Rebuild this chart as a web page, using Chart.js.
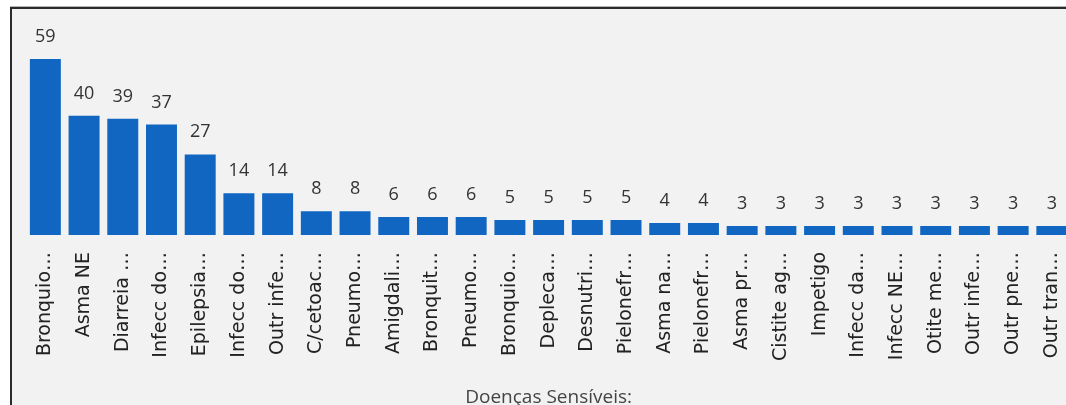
<!DOCTYPE html>
<html>
<head>
<meta charset="utf-8">
<script src="https://cdn.jsdelivr.net/npm/chart.js@4/dist/chart.umd.min.js"></script>
<style>
  html, body { margin: 0; padding: 0; background: #fff; overflow: hidden; width: 1066px; height: 405px; }
  .panel {
    position: absolute; left: 10px; top: 7px; width: 1100px; height: 420px;
    background: #f2f2f2; border-left: 2px solid #2b2b2b; border-top: 2px solid #2b2b2b;
    box-shadow: 0 -1px 0 #b5b5b5;
  }
  .chart-box { position: absolute; left: 0; top: 1px; width: 1080px; height: 400px; }
</style>
</head>
<body>
<div class="panel">
  <div class="chart-box"><canvas id="doencas-chart"></canvas></div>
</div>
<script>
// categorias (rótulos truncados como aparecem no gráfico)
const categorias = [
  'Bronquio…', 'Asma NE', 'Diarreia …', 'Infecc do…', 'Epilepsia…', 'Infecc do…',
  'Outr infe…', 'C/cetoac…', 'Pneumo…', 'Amigdali…', 'Bronquit…', 'Pneumo…',
  'Bronquio…', 'Depleca…', 'Desnutri…', 'Pielonefr…', 'Asma na…', 'Pielonefr…',
  'Asma pr…', 'Cistite ag…', 'Impetigo', 'Infecc da…', 'Infecc NE…', 'Otite me…',
  'Outr infe…', 'Outr pne…', 'Outr tran…'
];
const internacoes = [59, 40, 39, 37, 27, 14, 14, 8, 8, 6, 6, 6, 5, 5, 5, 5, 4, 4, 3, 3, 3, 3, 3, 3, 3, 3, 3];
const tituloEixoX = 'Doenças Sensíveis:';

// escreve o valor acima de cada barra
const rotuloValores = {
  id: 'rotuloValores',
  afterDatasetsDraw(chart) {
    const ctx = chart.ctx;
    const meta = chart.getDatasetMeta(0);
    ctx.save();
    ctx.font = '18px "Open Sans"';
    ctx.fillStyle = '#333';
    ctx.textAlign = 'center';
    ctx.textBaseline = 'alphabetic';
    meta.data.forEach((bar, i) => {
      ctx.fillText(String(internacoes[i]), bar.x, bar.y - 17);
    });
    ctx.restore();
  }
};

const ctx = document.getElementById('doencas-chart').getContext('2d');

new Chart(ctx, {
  type: 'bar',
  data: {
    labels: categorias,
    datasets: [
      {
        data: internacoes,
        backgroundColor: '#1066c0',
        borderWidth: 0,
        barPercentage: 1,
        categoryPercentage: 0.8,
      },
    ],
  },
  options: {
    responsive: true,
    maintainAspectRatio: false,
    animation: false,
    layout: {
      padding: { left: 14, right: 19, top: 46, bottom: 0 },
    },
    plugins: {
      legend: { display: false },
      tooltip: { enabled: false },
    },
    scales: {
      x: {
        grid: { display: false, drawTicks: false },
        border: { display: false },
        ticks: {
          autoSkip: false,
          maxRotation: 90,
          minRotation: 90,
          padding: 17,
          color: '#222',
          font: { family: '"DejaVu Sans"', size: 19 },
        },
        title: {
          display: true,
          text: tituloEixoX,
          color: '#444',
          font: { family: '"Open Sans"', size: 19 },
          padding: { top: 0, bottom: 1 },
        },
        afterFit: (scale) => {
          scale.height = 175;
        },
      },
      y: {
        display: false,
        min: 0,
        max: 60,
      },
    },
  },
  plugins: [rotuloValores],
});
</script>
</body>
</html>
